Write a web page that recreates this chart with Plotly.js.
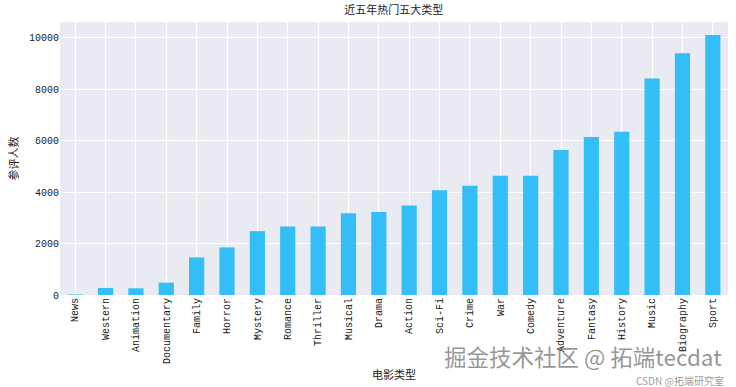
<!DOCTYPE html>
<html>
<head>
<meta charset="utf-8">
<script src="https://cdn.plot.ly/plotly-3.0.1.min.js"></script>
<style>html,body{margin:0;padding:0;background:#fff;}#chart{width:736px;height:387px;}</style>
</head>
<body>
<div id="chart"></div>
<script>
const genres = ["News","Western","Animation","Documentary","Family","Horror","Mystery","Romance","Thriller","Musical","Drama","Action","Sci-Fi","Crime","War","Comedy","Adventure","Fantasy","History","Music","Biography","Sport"];
const reviewers = [20,270,260,480,1460,1850,2480,2660,2660,3180,3220,3480,4070,4240,4630,4630,5630,6140,6340,8410,9390,10100];
const titleText = "近五年热门五大类型";
const xTitle = "电影类型";
const yTitle = "参评人数";
const yTicks = [0,2000,4000,6000,8000,10000];
const watermark1 = "掘金技术社区 @ 拓端tecdat";
const watermark2 = "CSDN @拓端研究室";

const mono = "Liberation Mono, DejaVu Sans Mono, Noto Sans CJK SC, monospace";
const cjk = "Noto Sans CJK SC, sans-serif";

const trace = {
  type: "bar",
  x: genres,
  y: reviewers,
  width: 0.5,
  marker: {color: "#33bef8", line: {width: 0}},
  hoverinfo: "x+y"
};

const layout = {
  width: 736, height: 387,
  margin: {l: 60, r: 8, t: 22, b: 92},
  paper_bgcolor: "#ffffff",
  plot_bgcolor: "#eaeaf2",
  showlegend: false,
  title: {text: titleText, x: 0.535, xanchor: "center", y: 0.985, yanchor: "top", font: {family: cjk, size: 11, color: "#222"}},
  xaxis: {
    type: "category",
    range: [-0.5, genres.length - 0.5],
    tickangle: -90,
    showgrid: true, gridcolor: "#ffffff", gridwidth: 1,
    zeroline: false, showline: false, ticks: "",
    tickfont: {family: mono, size: 10, color: "#222"},
    title: {text: xTitle, font: {family: cjk, size: 11, color: "#222"}, standoff: 8}
  },
  yaxis: {
    range: [0, 10605],
    tickvals: yTicks,
    ticktext: yTicks.map(String),
    showgrid: true, gridcolor: "#ffffff", gridwidth: 1,
    zeroline: false, showline: false, ticks: "",
    tickfont: {family: mono, size: 10, color: "#222"},
    title: {text: yTitle, font: {family: cjk, size: 11, color: "#222"}, standoff: 8}
  },
  annotations: [
    {text: watermark1, xref: "paper", yref: "paper", x: 0.992, y: -0.223, xanchor: "right", yanchor: "middle", showarrow: false, borderpad: 0,
     font: {family: cjk, size: 22.5, color: "rgba(115,115,115,0.75)"}},
    {text: watermark2, xref: "paper", yref: "paper", x: 0.995, y: -0.312, xanchor: "right", yanchor: "middle", showarrow: false, borderpad: 0,
     font: {family: cjk, size: 10, color: "rgba(130,130,130,0.8)"}}
  ]
};

Plotly.newPlot("chart", [trace], layout, {staticPlot: true, displayModeBar: false});
</script>
</body>
</html>
